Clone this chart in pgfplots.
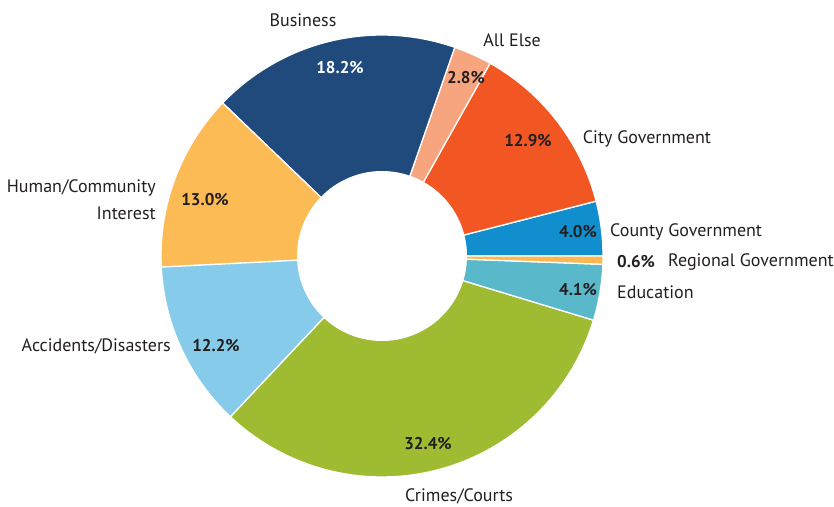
\documentclass[border=0pt]{standalone}
\usepackage{pgfplots}
\usepackage{pgfplotstable}
\pgfplotsset{compat=1.18}
\usepackage{fontspec}
\setmainfont{PT Sans}
\definecolor{txt}{HTML}{231F20}
\definecolor{cBiz}{HTML}{204A7B}
\definecolor{cElse}{HTML}{F6A57F}
\definecolor{cCity}{HTML}{F15623}
\definecolor{cCounty}{HTML}{108ECE}
\definecolor{cReg}{HTML}{FDB851}
\definecolor{cEdu}{HTML}{5AB8CB}
\definecolor{cCrime}{HTML}{9FBB32}
\definecolor{cAcc}{HTML}{86CCEA}
\definecolor{cHuman}{HTML}{FDBB55}

% share of stories, counter-clockwise from 3 o'clock
\pgfplotstableread{
value color
4.0  cCounty
12.9 cCity
2.8  cElse
18.2 cBiz
13.0 cHuman
12.2 cAcc
32.4 cCrime
4.1  cEdu
0.6  cReg
}\slices

\begin{document}
\begin{tikzpicture}[lbl/.style={font=\fontsize{18}{27}\selectfont,text=txt,inner sep=0pt},
 pct/.style={lbl,font=\fontsize{17}{27}\selectfont\bfseries}]
\begin{axis}[width=834pt,height=506pt,scale only axis,
 xmin=0,xmax=834,ymin=0,ymax=506,hide axis,clip=false]
\def\acc{0}
\pgfplotsforeachungrouped \i in {0,...,8} {
  \pgfplotstablegetelem{\i}{value}\of\slices \let\v=\pgfplotsretval
  \pgfplotstablegetelem{\i}{color}\of\slices \let\c=\pgfplotsretval
  \pgfmathsetmacro\a{\acc*3.592814}
  \pgfmathsetmacro\acc{\acc+\v}
  \pgfmathsetmacro\b{\acc*3.592814}
  \edef\cmd{\noexpand\addplot[fill=\c,draw=white,line width=1.3pt,line join=round,
    domain=\a:\b,samples=60] ({382+221*cos(x)},{250+221*sin(x)}) -- (382,250) -- cycle;}
  \cmd
}
\addplot[fill=white,draw=none,domain=0:360,samples=120] ({382+85*cos(x)},{250+85*sin(x)}) -- cycle;

% category labels
\node[lbl] at (303,486) {Business};
\node[lbl] at (512,466) {All Else};
\node[lbl] at (647,367) {City Government};
\node[lbl,anchor=west] at (610,274) {County Government};
\node[pct,anchor=west] at (617,244) {0.6\%};
\node[lbl,anchor=west] at (668,244) {Regional Government};
\node[lbl,anchor=west] at (617,214) {Education};
\node[lbl] at (459,10) {Crimes/Courts};
\node[lbl,anchor=east] at (171,160) {Accidents/Disasters};
\node[lbl,anchor=east,align=right] at (156,306) {Human/Community\\Interest};

% percentages
\node[pct,text=white] at (340,438) {18.2\%};
\node[pct] at (466,428) {2.8\%};
\node[pct] at (528,365) {12.9\%};
\node[pct] at (578,274) {4.0\%};
\node[pct] at (578,216) {4.1\%};
\node[pct] at (428,62) {32.4\%};
\node[pct] at (216,160) {12.2\%};
\node[pct] at (205,306) {13.0\%};
\end{axis}
\pgfresetboundingbox
\path (current axis.south west) rectangle (current axis.north east);
\end{tikzpicture}
\end{document}
